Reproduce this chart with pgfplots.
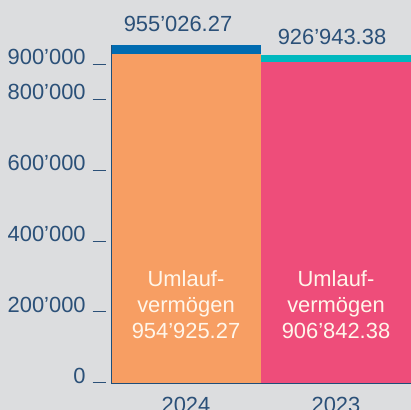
\documentclass[border=0pt]{standalone}
\usepackage{fontspec}
\setmainfont{Liberation Sans}
\usepackage{pgfplots}
\pgfplotsset{compat=1.18}
\definecolor{bg}{HTML}{DCDDDF}
\definecolor{txt}{HTML}{2B5078}
\definecolor{orng}{HTML}{F79E63}
\definecolor{pnk}{HTML}{EE4D7A}
\definecolor{blu}{HTML}{006BB0}
\definecolor{tel}{HTML}{00B8BE}
\definecolor{axc}{HTML}{1F4E79}
\definecolor{lbl}{HTML}{FFF6EA}
\newcommand{\tk}[1]{#1\hspace{7bp}\rule{13bp}{0.9bp}}
\begin{document}
\begin{tikzpicture}[x=1bp,y=1bp]
\fill[bg] (0,0) rectangle (411,410);
\begin{axis}[
  at={(111bp,27bp)}, anchor=south west, scale only axis,
  width=300bp, height=338bp,
  xmin=-0.5, xmax=1.5, ymin=0, ymax=955026.27,
  enlargelimits=false, clip=false, axis on top,
  scaled y ticks=false,
  ybar stacked, reverse stacked plots=false, bar width=1,
  axis x line=bottom, axis y line=left,
  axis line style={-, draw=axc, line width=1bp},
  xtick={0,1}, xticklabels={2024,2023},
  xtick style={draw=none}, ytick style={draw=none},
  ytick={0,200000,400000,600000,800000,900000},
  yticklabels={\tk{0},\tk{200’000},\tk{400’000},\tk{600’000},\tk{800’000},\tk{900’000}},
  yticklabel style={anchor=base east, inner sep=0pt, xshift=-3bp, text=txt, font=\fontsize{22}{26}\selectfont},
  xticklabel style={anchor=base, inner sep=0pt, yshift=-27bp, text=txt, font=\fontsize{22}{26}\selectfont},
  point meta=explicit symbolic,
  every node near coord/.style={anchor=base, text=txt, font=\fontsize{22}{26}\selectfont, inner sep=0pt},
]
\addplot[fill=orng, draw=none] coordinates {(0,954925.27) (1,0)};
\addplot[fill=pnk, draw=none] coordinates {(0,0) (1,906842.38)};
\addplot[fill=tel, draw=none, nodes near coords, every node near coord/.append style={yshift=14bp, xshift=-4bp}] coordinates {(0,0) [] (1,20101) [926’943.38]};
\addplot[fill=blu, draw=blu, line width=9bp, bar width=0.94, yshift=-4.5bp, nodes near coords, every node near coord/.append style={yshift=18.5bp, xshift=-8bp}] coordinates {(0,101) [955’026.27]};
\coordinate (la) at (axis cs:0,124330);
\coordinate (lb) at (axis cs:1,124330);
\end{axis}
\node[anchor=base, align=center, text=lbl, font=\fontsize{22}{26.5}\selectfont, inner sep=0pt] at (la) {Umlauf-\\vermögen\\954’925.27};
\node[anchor=base, align=center, text=lbl, font=\fontsize{22}{26.5}\selectfont, inner sep=0pt] at (lb) {Umlauf-\\vermögen\\906’842.38};
\pgfresetboundingbox
\useasboundingbox (0,0) rectangle (411,410);
\end{tikzpicture}
\end{document}
